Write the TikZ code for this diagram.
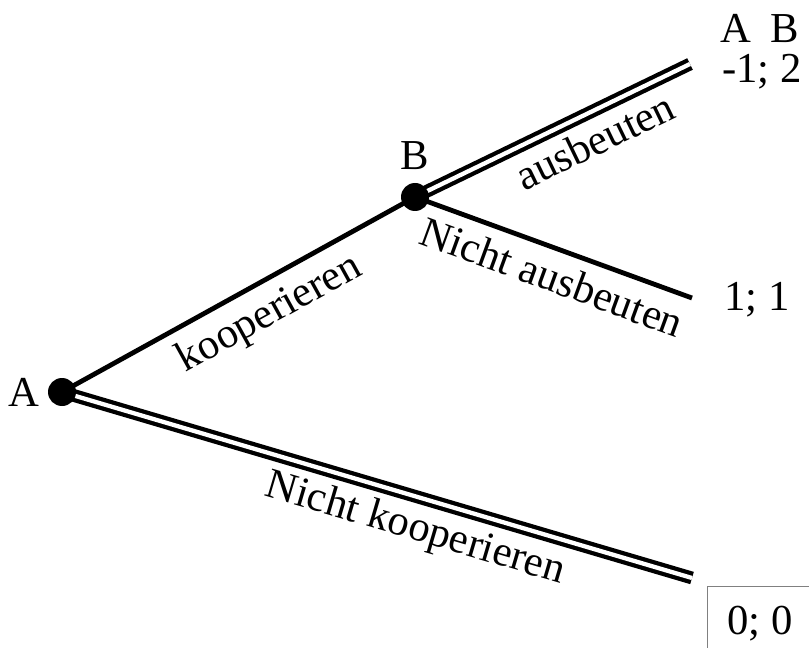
\documentclass[tikz,border=0pt]{standalone}
\usepackage{fontspec}
\setmainfont{Liberation Serif}
\usepackage{tikz}
\usetikzlibrary{positioning, backgrounds}

\begin{document}
\begin{tikzpicture}[
  x=0.75pt, y=-0.75pt,
  font=\fontsize{32}{38}\selectfont,
  dot/.style={circle, fill=black, inner sep=0pt, minimum size=21pt},
  zug/.style={line width=3.6pt},
  gewaehlt/.style={line width=3.2pt, double, double distance=3.2pt},
  lbl/.style={sloped, inner sep=8pt},
  payoff/.style={inner sep=0pt}
]
  \useasboundingbox (0,0) rectangle (809,648);
  \clip (0,0) rectangle (809,648);

  \node[dot] (A) at (62,392) {};
  \node[dot] (B) at (415,197) {};
  \node[left=3pt of A] (labA) {A};
  \node[above=6pt of B] (labB) {B};

  \coordinate (ausEnd) at (690,64);
  \coordinate (nichtAusEnd) at (692,298);
  \coordinate (nichtKoopEnd) at (692,578);

  % payoffs
  \node[payoff] (kopf) at (760,28) {A\hspace{0.45em}B};
  \node[payoff] (p1) at (762,72) {-1; 2};
  \node[payoff] (p2) at (757,300) {1; 1};
  \node[draw=gray, line width=0.8pt, inner sep=15pt, anchor=north west] (p3) at (707,586) {0; 0};

  \begin{scope}[on background layer]
    \draw[zug] (A.center) -- (B.center) node[lbl, pos=0.545, below] {kooperieren};
    \draw[gewaehlt] (A.center) -- (nichtKoopEnd) node[lbl, pos=0.575, below] {Nicht kooperieren};
    \draw[gewaehlt] (B.center) -- (ausEnd) node[lbl, pos=0.61, below] {ausbeuten};
    \draw[zug] (B.center) -- (nichtAusEnd) node[lbl, pos=0.53, below] {Nicht ausbeuten};
  \end{scope}
\end{tikzpicture}
\end{document}
